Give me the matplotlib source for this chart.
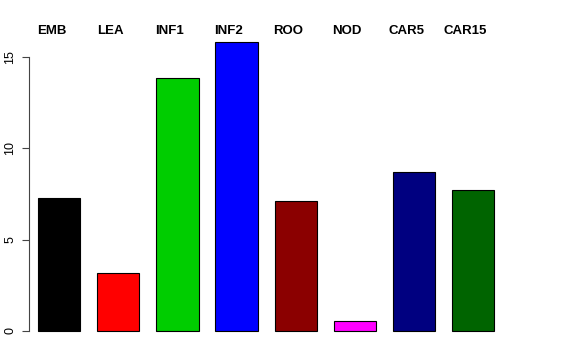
import matplotlib
matplotlib.use("Agg")
import matplotlib.pyplot as plt
import numpy as np

plt.rcParams['font.family'] = ['Liberation Sans', 'DejaVu Sans']

tissues = ["EMB", "LEA", "INF1", "INF2", "ROO", "NOD", "CAR5", "CAR15"]
values = [7.30, 3.16, 13.86, 15.80, 7.10, 0.53, 8.70, 7.72]
colors = ["black", "red", "#00CD00", "blue", "#8B0000", "magenta", "#000080", "#006400"]
yticks = [0, 5, 10, 15]

fig = plt.figure(figsize=(5.76, 3.6), dpi=100)
ax = fig.add_axes([0.0503, 0.0806, 0.837, 0.8375])

# barplot layout: width 1, space 0.4
lefts = 0.4 + 1.4 * np.arange(len(values))
centers = lefts + 0.5
ax.bar(centers, values, width=1.0, color=colors, edgecolor="black",
       linewidth=0.8, clip_on=False)

ax.set_xlim(0.187, 0.187 + 482 / 42.24)
ax.set_ylim(0, 16.5)

for c, name in zip(centers, tissues):
    ax.text(c - 0.18, 16.42, name, ha="center", va="center",
            fontsize=9.5, fontweight="bold", clip_on=False)

for s in ["top", "right", "bottom"]:
    ax.spines[s].set_visible(False)
ax.spines["left"].set_bounds(0, 15)
ax.spines["left"].set_color("#444444")
ax.set_xticks([])
ax.set_yticks(yticks)
ax.set_yticklabels([str(t) for t in yticks], rotation=90, va="center", fontsize=9)
ax.tick_params(axis="y", length=5, width=0.8, color="#444444", pad=4)

fig.savefig("out.png", dpi=100)
